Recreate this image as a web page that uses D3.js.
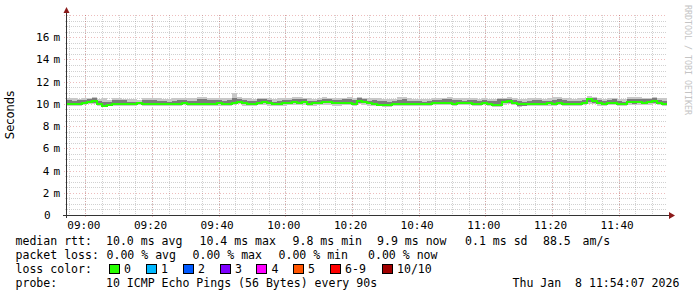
<!DOCTYPE html>
<html>
<head>
<meta charset="utf-8">
<script src="https://cdn.jsdelivr.net/npm/d3@7"></script>
<style>
  body { margin: 0; background: #fff; }
  svg { display: block; }
  text { font-family: "DejaVu Sans Mono", monospace; fill: #000; }
</style>
</head>
<body>
<svg id="chart" width="697" height="297"></svg>
<script>
// ---- data (ms), one value per 90 s step starting 08:54:30 ----
var median = [10.0,9.95,9.95,10.05,10.15,10.25,10.0,9.8,9.9,9.95, 10.0,10.0,10.0,10.0,10.05,10.0,10.0,10.0,9.95,9.95,
  10.0,10.0,10.0,10.05,10.0,10.0,10.0,9.95,10.0,10.0,
  10.05,10.0,9.95,10.1,10.2,10.05,9.95,10.0,10.1,10.15, 10.05,10.0,10.0,10.05,10.1,10.15,10.1,10.2,10.0,10.05,
  10.1,10.15,10.2,10.05,10.05,10.1,10.1,10.0,10.25,10.15,
  10.05,9.95,9.9,9.9,9.9,9.95,9.95,10.0,10.0,10.0, 10.0,10.0,10.0,10.05,10.05,10.1,10.05,10.0,10.05,10.1,
  10.05,10.0,10.0,10.05,9.95,9.9,9.9,10.15,10.25,10.1,
  9.95,9.95,10.0,10.0,10.0,10.0,10.05,10.0,10.05,10.0, 10.0,9.95,10.0,10.05,10.4,10.25,10.05,10.0,10.05,10.05,
  10.0,9.95,10.15,10.2,10.15,10.1,10.15,10.3,10.1,10.0];
var pingMax = [10.55,10.5,10.45,10.5,10.55,10.6,10.45,10.55,10.35,10.5, 10.5,10.45,10.45,10.4,10.35,10.5,10.5,10.5,10.55,10.45,
  10.4,10.5,10.5,10.55,10.55,10.5,10.6,10.6,10.5,10.55,
  10.55,10.5,10.55,11.0,10.6,10.55,10.5,10.45,10.55,10.55, 10.5,10.45,10.5,10.55,10.5,10.6,10.65,10.55,10.5,10.45,
  10.55,10.6,10.5,10.55,10.55,10.5,10.6,10.55,10.65,10.55,
  10.5,10.55,10.5,10.4,10.4,10.45,10.65,10.6,10.5,10.45, 10.45,10.4,10.45,10.5,10.5,10.55,10.6,10.55,10.5,10.5,
  10.55,10.5,10.45,10.5,10.4,10.45,10.55,10.55,10.6,10.55,
  10.45,10.4,10.5,10.55,10.5,10.45,10.5,10.6,10.6,10.55, 10.5,10.45,10.5,10.55,10.7,10.65,10.5,10.45,10.5,10.55,
  10.45,10.4,10.6,10.6,10.6,10.55,10.55,10.65,10.55,10.5];
var pingQ3 = [10.35,10.3,10.35,10.35,10.45,10.5,10.25,10.2,10.15,10.35, 10.35,10.35,10.15,10.15,10.1,10.35,10.35,10.35,10.25,10.3,
  10.15,10.3,10.35,10.35,10.3,10.25,10.4,10.45,10.35,10.35,
  10.35,10.3,10.35,10.5,10.4,10.35,10.3,10.25,10.4,10.4, 10.35,10.2,10.3,10.35,10.35,10.4,10.45,10.45,10.3,10.25,
  10.35,10.4,10.45,10.35,10.35,10.4,10.4,10.35,10.5,10.45,
  10.3,10.35,10.3,10.25,10.2,10.25,10.35,10.4,10.3,10.25, 10.25,10.2,10.3,10.35,10.35,10.4,10.4,10.35,10.35,10.3,
  10.35,10.35,10.3,10.35,10.25,10.25,10.4,10.4,10.45,10.35,
  10.25,10.2,10.3,10.35,10.35,10.25,10.3,10.35,10.4,10.35, 10.3,10.25,10.3,10.35,10.55,10.5,10.35,10.3,10.35,10.4,
  10.25,10.2,10.45,10.45,10.45,10.4,10.45,10.5,10.35,10.25];
var pingQ1 = [9.95,9.9,9.95,10.0,10.05,10.1,9.9,9.75,9.85,9.9, 9.95,9.95,9.95,9.95,10.0,9.95,9.95,9.95,9.9,9.9,
  9.95,9.95,9.95,10.0,9.95,9.95,9.95,9.9,9.95,9.95,
  9.95,9.9,9.95,10.05,10.1,9.95,9.9,9.95,10.0,10.05, 9.95,9.9,9.9,9.95,10.0,10.05,10.05,10.1,9.95,9.95,
  10.0,10.05,10.05,9.95,9.95,10.0,10.05,9.95,10.1,10.05,
  9.95,9.9,9.85,9.85,9.85,9.9,9.9,9.95,9.95,9.95, 9.95,9.95,9.95,10.0,10.0,10.0,10.0,9.95,10.0,10.0,
  10.0,9.95,9.95,10.0,9.9,9.85,9.85,10.05,10.1,10.0,
  9.85,9.85,9.9,9.95,9.95,9.9,9.95,9.95,10.0,9.95, 9.95,9.9,9.95,10.0,10.15,10.1,9.95,9.95,10.0,10.0,
  9.95,9.9,10.05,10.0,10.05,10.0,10.05,10.1,10.0,9.95];
var pingMin = [9.85,9.85,9.85,9.9,9.95,9.95,9.8,9.7,9.8,9.85, 9.85,9.85,9.85,9.85,9.9,9.85,9.85,9.85,9.8,9.8,
  9.85,9.85,9.85,9.9,9.85,9.85,9.85,9.8,9.85,9.85,
  9.85,9.8,9.85,9.9,9.95,9.85,9.8,9.85,9.9,9.9, 9.85,9.8,9.8,9.85,9.9,9.9,9.9,9.9,9.85,9.85,
  9.9,9.9,9.9,9.85,9.85,9.9,9.9,9.85,9.95,9.9,
  9.85,9.8,9.8,9.75,9.75,9.8,9.8,9.85,9.85,9.85, 9.85,9.85,9.85,9.9,9.9,9.9,9.9,9.85,9.9,9.9,
  9.9,9.85,9.85,9.9,9.8,9.75,9.75,9.9,9.95,9.9,
  9.75,9.8,9.8,9.85,9.85,9.8,9.85,9.85,9.9,9.85, 9.85,9.8,9.85,9.9,9.95,9.95,9.85,9.85,9.9,9.9,
  9.85,9.8,9.9,9.9,9.9,9.9,9.9,9.95,9.9,9.85];

var yTicks = [0, 2, 4, 6, 8, 10, 12, 14, 16];
var lossLabels = ['0', '1', '2', '3', '4', '5', '6-9', '10/10'];
var lossColors = ['#26ff00', '#00b8ff', '#0059ff', '#7e00ff', '#ff00ff', '#ff5500', '#ff0000', '#a10000'];

var legendRows = [
  [['median rtt:', 15.5], ['10.0 ms avg', 106], ['10.4 ms max', 199.5], ['9.8 ms min', 292.5],
   ['9.9 ms now', 377], ['0.1 ms sd', 465], ['88.5', 543], ['am/s', 582.5]],
  [['packet loss:', 15.5], ['0.00 % avg', 106.5], ['0.00 % max', 192.5], ['0.00 % min', 278.5], ['0.00 % now', 368]],
  [['loss color:', 15.5]],
  [['probe:', 15.5], ['10 ICMP Echo Pings (56 Bytes) every 90s', 106], ['Thu Jan  8 11:54:07 2026', 512.5]]
];

var t0 = Date.UTC(2026, 0, 8, 8, 54, 30);
var stepSec = 90;

drawSmokeGraph();

function drawSmokeGraph() {
  var svg = d3.select('#chart');
  var pL = 67, pR = 667, pT = 15, pB = 215;

  var x = d3.scaleUtc()
    .domain([new Date(t0), new Date(t0 + 3 * 3600 * 1000)])
    .range([pL, pR]);
  var y = d3.scaleLinear().domain([0, 18]).range([pB, pT]);

  // grid
  var minorT = d3.utcMinute.every(5).range(x.domain()[0], x.domain()[1]);
  var majorT = d3.utcMinute.every(20).range(x.domain()[0], x.domain()[1]);
  var minorY = d3.range(0.5, 18.01, 0.5).filter(function(v){ return v % 2 !== 0; });

  var grid = svg.append('g').attr('shape-rendering', 'crispEdges');
  grid.selectAll('.mnx').data(minorT).enter().append('line')
    .attr('x1', function(d){ return Math.round(x(d)) + 0.5; })
    .attr('x2', function(d){ return Math.round(x(d)) + 0.5; })
    .attr('y1', pT).attr('y2', pB + 2)
    .attr('stroke', 'rgba(140,140,140,0.4)').attr('stroke-dasharray', '1,1');
  grid.selectAll('.mny').data(minorY).enter().append('line')
    .attr('x1', pL - 2).attr('x2', pR)
    .attr('y1', function(d){ return Math.round(y(d)) + 0.5; })
    .attr('y2', function(d){ return Math.round(y(d)) + 0.5; })
    .attr('stroke', 'rgba(140,140,140,0.4)').attr('stroke-dasharray', '1,1');
  grid.selectAll('.mjx').data(majorT).enter().append('line')
    .attr('x1', function(d){ return Math.round(x(d)) + 0.5; })
    .attr('x2', function(d){ return Math.round(x(d)) + 0.5; })
    .attr('y1', pT).attr('y2', pB + 3)
    .attr('stroke', 'rgba(210,90,90,0.4)').attr('stroke-dasharray', '1,2');
  grid.selectAll('.mjy').data(yTicks.concat([18])).enter().append('line')
    .attr('x1', pL - 3).attr('x2', pR)
    .attr('y1', function(d){ return Math.round(y(d)) + 0.5; })
    .attr('y2', function(d){ return Math.round(y(d)) + 0.5; })
    .attr('stroke', 'rgba(210,90,90,0.4)').attr('stroke-dasharray', '1,2');

  // smoke + median
  var pts = median.map(function(m, i) {
    return { t: new Date(t0 + i * stepSec * 1000), med: m, lo: pingMin[i], hi: pingMax[i], q1: pingQ1[i], q3: pingQ3[i] };
  });
  var last = pts[pts.length - 1];
  pts.push({ t: new Date(t0 + pts.length * stepSec * 1000), med: last.med, lo: last.lo, hi: last.hi, q1: last.q1, q3: last.q3 });

  var plot = svg.append('g').attr('shape-rendering', 'crispEdges');
  plot.append('path').datum(pts)
    .attr('d', d3.area().curve(d3.curveStepAfter)
      .x(function(d){ return x(d.t); }).y0(function(d){ return y(d.lo); }).y1(function(d){ return y(d.hi); }))
    .attr('fill', '#c8c8c8');
  plot.append('path').datum(pts)
    .attr('d', d3.area().curve(d3.curveStepAfter)
      .x(function(d){ return x(d.t); }).y0(function(d){ return y(d.q1); }).y1(function(d){ return y(d.q3); }))
    .attr('fill', '#7c7c7c');
  plot.append('path').datum(pts)
    .attr('d', d3.line().curve(d3.curveStepAfter)
      .x(function(d){ return x(d.t); }).y(function(d){ return y(d.med); }))
    .attr('fill', 'none').attr('stroke', lossColors[0]).attr('stroke-width', 2);

  // axes
  var ax = svg.append('g').attr('shape-rendering', 'crispEdges');
  ax.append('line').attr('x1', pL - 0.5).attr('x2', pL - 0.5).attr('y1', 12).attr('y2', pB + 3)
    .attr('stroke', '#333');
  ax.append('line').attr('x1', pL - 4).attr('x2', pR + 3).attr('y1', pB + 0.5).attr('y2', pB + 0.5)
    .attr('stroke', '#333');
  svg.append('path').attr('d', 'M63.5,13 L66.5,7 L69.5,13 Z').attr('fill', '#8b1a1a');
  svg.append('path').attr('d', 'M669,212 L675,215.5 L669,219 Z').attr('fill', '#8b1a1a');

  // axis labels
  svg.selectAll('.xl').data(majorT).enter().append('text')
    .attr('x', function(d){ return x(d) - 1.5; })
    .attr('y', 228.5)
    .attr('text-anchor', 'middle')
    .style('font-size', '11px')
    .text(d3.utcFormat('%H:%M'));
  svg.selectAll('.yl').data(yTicks).enter().append('text')
    .attr('x', function(d){ return d === 0 ? 50.5 : 49.3; })
    .attr('y', function(d){ return y(d) + 4; })
    .attr('text-anchor', 'end')
    .style('font-size', '11px')
    .text(function(d){ return d; });
  svg.selectAll('.yu').data(yTicks.filter(function(d){ return d > 0; })).enter().append('text')
    .attr('x', 53.5)
    .attr('y', function(d){ return y(d) + 4; })
    .style('font-size', '11px')
    .text('m');

  svg.append('text')
    .attr('transform', 'translate(14,' + ((pT + pB) / 2) + ') rotate(-90)')
    .attr('text-anchor', 'middle')
    .style('font-family', '"DejaVu Sans", sans-serif')
    .style('font-size', '11.5px')
    .text('Seconds');

  svg.append('text')
    .attr('transform', 'translate(684.5,5) rotate(90)')
    .style('font-size', '8.3px')
    .style('fill', '#c4c4c4')
    .text('RRDTOOL / TOBI OETIKER');

  // legend
  var rowY = [245, 259, 273, 287];
  legendRows.forEach(function(row, r) {
    svg.selectAll(null).data(row).enter().append('text')
      .attr('x', function(d){ return d[1]; })
      .attr('y', rowY[r])
      .attr('xml:space', 'preserve')
      .style('white-space', 'pre')
      .style('font-size', '11.55px')
      .text(function(d){ return d[0]; });
  });
  var boxX = [108.5, 145.5, 182.5, 219.5, 256, 292.5, 329.5, 381.5];
  var lg = svg.append('g').attr('shape-rendering', 'crispEdges');
  lg.selectAll('rect').data(lossColors).enter().append('rect')
    .attr('x', function(d, i){ return Math.round(boxX[i]) + 0.5; })
    .attr('y', 264.5).attr('width', 10).attr('height', 9)
    .attr('fill', function(d){ return d; }).attr('stroke', '#000');
  svg.selectAll('.ll').data(lossLabels).enter().append('text')
    .attr('x', function(d, i){ return boxX[i] + 15.5; })
    .attr('y', 273)
    .style('font-size', '11.55px')
    .text(function(d){ return d; });
}
</script>
</body>
</html>
